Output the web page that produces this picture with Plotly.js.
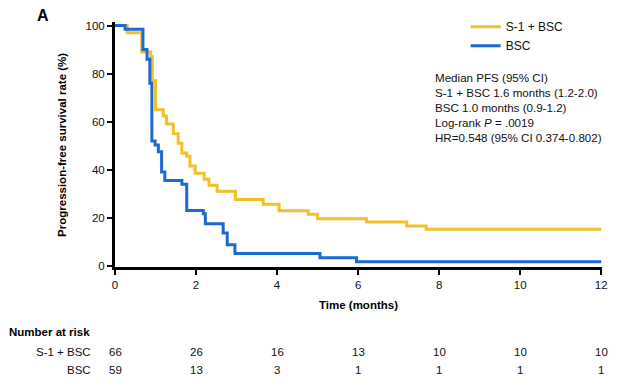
<!DOCTYPE html>
<html>
<head>
<meta charset="utf-8">
<script src="https://cdn.plot.ly/plotly-3.0.1.min.js"></script>
<style>html,body{margin:0;padding:0;background:#fff;}#chart{width:623px;height:391px;}</style>
</head>
<body>
<div id="chart"></div>
<script>
// S-1 + BSC Kaplan-Meier steps
const s1Time = [0, 0.3, 0.66, 0.88, 0.92, 1.0, 1.19, 1.27, 1.44, 1.56, 1.65, 1.77, 1.85, 1.98, 2.2, 2.32, 2.52, 2.97, 3.66, 4.05, 4.77, 5.0, 6.21, 7.2, 7.68, 12];
const s1Surv = [100, 97, 89, 87, 77, 65, 62.4, 59, 55, 51, 47, 45.6, 41.6, 38.5, 36, 33.5, 31, 27.6, 25.6, 22.9, 21.5, 19.6, 18.2, 16.6, 15.2, 15.2];
// BSC Kaplan-Meier steps
const bscTime = [0, 0.25, 0.69, 0.79, 0.86, 0.91, 0.99, 1.07, 1.15, 1.23, 1.65, 1.77, 2.18, 2.23, 2.67, 2.77, 2.96, 5.06, 5.96, 12];
const bscSurv = [100, 98.5, 90, 86, 76, 52, 50.3, 47.5, 39, 35.5, 34, 23, 21.7, 17.5, 13.7, 8.8, 5.1, 3.4, 1.7, 1.7];
// Number at risk
const riskTimes = [0, 2, 4, 6, 8, 10, 12];
const riskS1 = [66, 26, 16, 13, 10, 10, 10];
const riskBSC = [59, 13, 3, 1, 1, 1, 1];
const seriesNames = ["S-1 + BSC", "BSC"];
const statsLines = ["Median PFS (95% CI)", "S-1 + BSC 1.6 months (1.2-2.0)", "BSC 1.0 months (0.9-1.2)", "Log-rank <i>P</i> = .0019", "HR=0.548 (95% CI 0.374-0.802)"];

const FONT = "Liberation Sans, Arial, sans-serif";
const yellow = "#F0C128";
const blue = "#1C6ACF";

const traces = [
  {x: s1Time, y: s1Surv, name: seriesNames[0], mode: "lines", line: {shape: "hv", color: yellow, width: 3}},
  {x: bscTime, y: bscSurv, name: seriesNames[1], mode: "lines", line: {shape: "hv", color: blue, width: 3}}
];

const ann = [];
ann.push({text: "<b>A</b>", xref: "paper", yref: "paper", x: -0.165, y: 1.07, xanchor: "left", yanchor: "top", showarrow: false, font: {size: 16, family: FONT, color: "#000"}});
ann.push({text: "<b>Progression-free survival rate (%)</b>", xref: "paper", yref: "paper", x: -0.11, y: 0.5, textangle: -90, xanchor: "center", yanchor: "middle", showarrow: false, font: {size: 11.5, family: FONT, color: "#000"}});
ann.push({text: statsLines.join("<br>"), xref: "paper", yref: "paper", x: 0.652, y: 0.81, xanchor: "left", yanchor: "top", align: "left", showarrow: false, font: {size: 11.6, family: FONT, color: "#111"}});
ann.push({text: "<b>Number at risk</b>", xref: "paper", yref: "paper", x: -0.222, y: -0.265, xanchor: "left", yanchor: "middle", showarrow: false, font: {size: 11.5, family: FONT, color: "#000"}});
ann.push({text: seriesNames[0], xref: "paper", yref: "paper", x: -0.046, y: -0.345, xanchor: "right", yanchor: "middle", showarrow: false, font: {size: 11.5, family: FONT, color: "#111"}});
ann.push({text: seriesNames[1], xref: "paper", yref: "paper", x: -0.046, y: -0.422, xanchor: "right", yanchor: "middle", showarrow: false, font: {size: 11.5, family: FONT, color: "#111"}});
riskTimes.forEach((t, i) => {
  ann.push({text: String(riskS1[i]), xref: "x", yref: "paper", x: t, y: -0.345, xanchor: "center", yanchor: "middle", showarrow: false, font: {size: 11.5, family: FONT, color: "#111"}});
  ann.push({text: String(riskBSC[i]), xref: "x", yref: "paper", x: t, y: -0.422, xanchor: "center", yanchor: "middle", showarrow: false, font: {size: 11.5, family: FONT, color: "#111"}});
});

const layout = {
  width: 623, height: 391,
  margin: {l: 115, r: 21, t: 15, b: 124},
  paper_bgcolor: "#fff", plot_bgcolor: "#fff",
  font: {family: FONT, size: 11.5, color: "#111"},
  showlegend: true,
  legend: {x: 0.72, y: 1.04, xanchor: "left", yanchor: "top", bgcolor: "rgba(0,0,0,0)", font: {size: 12, family: FONT, color: "#111"}, tracegroupgap: 0, itemwidth: 30},
  xaxis: {range: [0, 12.02], tickvals: [0, 2, 4, 6, 8, 10, 12], showgrid: false, zeroline: false, showline: true, linecolor: "#000", linewidth: 3, ticks: "outside", ticklen: 5, tickwidth: 2, tickcolor: "#000",
    title: {text: "<b>Time (months)</b>", font: {size: 11.5, family: FONT, color: "#000"}, standoff: 12}},
  yaxis: {range: [-0.5, 101.5], tickvals: [0, 20, 40, 60, 80, 100], showgrid: false, zeroline: false, showline: true, linecolor: "#000", linewidth: 3, ticks: "outside", ticklen: 5, tickwidth: 2, tickcolor: "#000"},
  annotations: ann
};

Plotly.newPlot("chart", traces, layout, {displayModeBar: false, staticPlot: true});
</script>
</body>
</html>
